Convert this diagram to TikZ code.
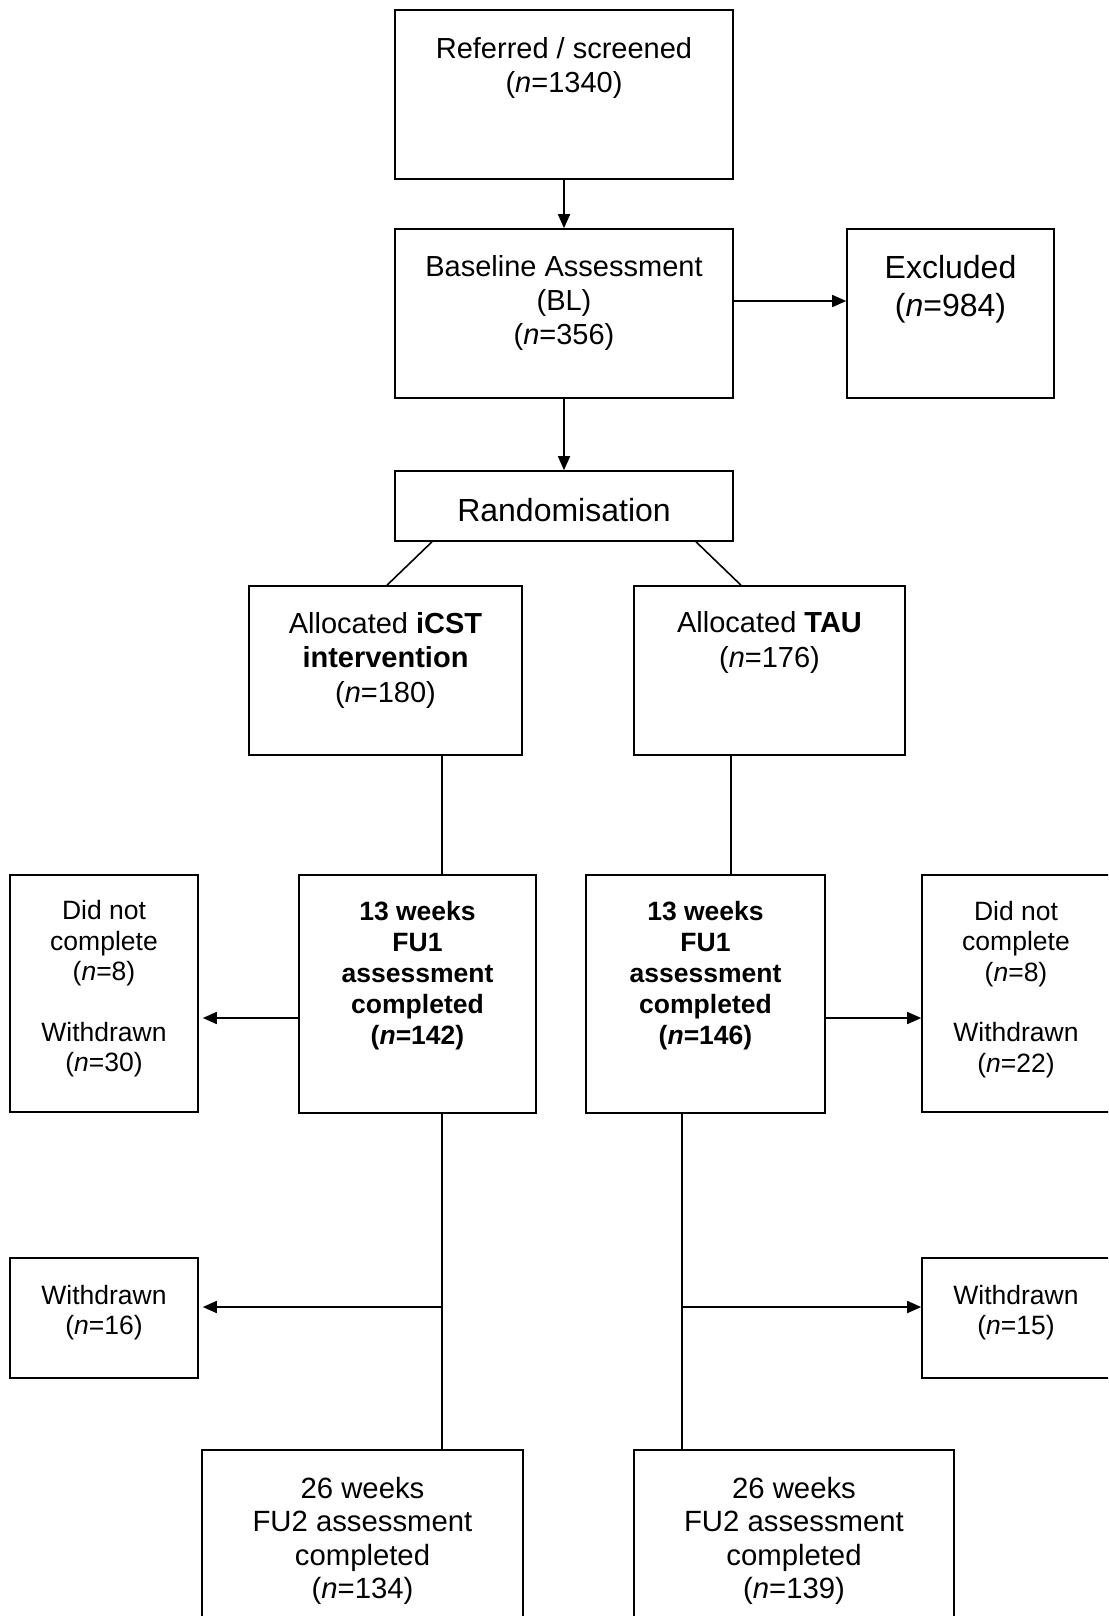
\documentclass[tikz,border=0pt]{standalone}
\usepackage{fontspec}
\setmainfont{Liberation Sans}
\usetikzlibrary{arrows.meta}
\begin{document}
\begin{tikzpicture}[x=1bp,y=-1bp,
  box/.style={draw=black,line width=1.6bp,minimum width=#1,inner sep=0pt},
  lbl/.style={align=center,inner sep=0pt},
  main/.style={font=\fontsize{29bp}{34bp}\selectfont},
  big/.style={font=\fontsize{32bp}{38bp}\selectfont},
  small/.style={font=\fontsize{26.5bp}{30.4bp}\selectfont},
  boldtxt/.style={font=\fontsize{26.5bp}{31bp}\selectfont\bfseries},
  link/.style={line width=1.6bp},
  arr/.style={line width=1.6bp,-{Triangle[length=14bp,width=12bp]}}]
\useasboundingbox (0,0) rectangle (1108,1616);
\fill[white] (0,0) rectangle (1108,1616);
\clip (0,0) rectangle (1108,1616);

% boxes
\node[box=338bp,minimum height=169bp] (ref)  at (564,94.5) {};
\node[box=338bp,minimum height=169bp] (base) at (564,313.5) {};
\node[box=207bp,minimum height=169bp] (excl) at (950.5,313.5) {};
\node[box=338bp,minimum height=70bp]  (rand) at (564,506) {};
\node[box=273bp,minimum height=169bp] (icst) at (385.5,670.5) {};
\node[box=271bp,minimum height=169bp] (tau)  at (769.5,670.5) {};
\node[box=237bp,minimum height=238bp] (fuL)  at (417.5,994) {};
\node[box=239bp,minimum height=238bp] (fuR)  at (705.5,994) {};
\node[box=188bp,minimum height=237bp] (dncL) at (104,993.5) {};
\node[box=188bp,minimum height=237bp] (dncR) at (1016,993.5) {};
\node[box=188bp,minimum height=120bp] (wdL)  at (104,1318) {};
\node[box=188bp,minimum height=120bp] (wdR)  at (1016,1318) {};
\node[box=321bp,minimum height=200bp] (fuIIL) at (362.5,1550) {};
\node[box=320bp,minimum height=200bp] (fuIIR) at (794,1550) {};

% texts
\node[lbl,main] (refT) at (564,67.5) {Referred / screened\\(\textit{n}=1340)};
\node[lbl,main] (baseT) at (564,303) {Baseline Assessment\\(BL)\\(\textit{n}=356)};
\node[lbl,big] (exclT) at (950.5,289) {Excluded\\(\textit{n}=984)};
\node[lbl,big] (randT) at (564,510) {Randomisation};
\node[lbl,main,font=\fontsize{29bp}{34.5bp}\selectfont] (icstT) at (385.5,660)
  {Allocated \textbf{iCST}\\\textbf{intervention}\\(\textit{n}=180)};
\node[lbl,main,font=\fontsize{29bp}{34.5bp}\selectfont] (tauT) at (769.5,642.5)
  {Allocated \textbf{TAU}\\(\textit{n}=176)};
\node[lbl,boldtxt] (fuLT) at (417.5,976) {13 weeks\\FU1\\assessment\\completed\\(\textit{n}=142)};
\node[lbl,boldtxt] (fuRT) at (705.5,976) {13 weeks\\FU1\\assessment\\completed\\(\textit{n}=146)};
\node[lbl,small] (dncLT) at (104,989) {Did not\\complete\\(\textit{n}=8)\\[30.4bp]Withdrawn\\(\textit{n}=30)};
\node[lbl,small] (dncRT) at (1016,989.5) {Did not\\complete\\(\textit{n}=8)\\[30.4bp]Withdrawn\\(\textit{n}=22)};
\node[lbl,small] (wdLT) at (104,1312.5) {Withdrawn\\(\textit{n}=16)};
\node[lbl,small] (wdRT) at (1016,1312.5) {Withdrawn\\(\textit{n}=15)};
\node[lbl,main,font=\fontsize{29.3bp}{33.3bp}\selectfont] (fuIILT) at (362.5,1541)
  {26 weeks\\FU2 assessment\\completed\\(\textit{n}=134)};
\node[lbl,main,font=\fontsize{29.3bp}{33.3bp}\selectfont] (fuIIRT) at (794,1541)
  {26 weeks\\FU2 assessment\\completed\\(\textit{n}=139)};

% column positions of the vertical connectors
\coordinate (colL) at (442,0);
\coordinate (colR) at (731,0);
\coordinate (colRb) at (682,0);
\coordinate (rowFU) at (0,1018);
\coordinate (rowWD) at (0,1307);

% connectors
\draw[arr] (ref.south) -- (base.north);
\draw[arr] (base.south) -- (rand.north);
\draw[arr] (base.east |- 0,301) -- (excl.west |- 0,301);
\draw[link] ([xshift=-132bp]rand.south) -- ([xshift=1.5bp]icst.north);
\draw[link] ([xshift=132bp]rand.south) -- ([xshift=-28.5bp]tau.north);
\draw[link] (colL |- icst.south) -- (colL |- fuL.north);
\draw[link] (colR |- tau.south) -- (colR |- fuR.north);
\draw[arr,shorten >=4bp] (fuL.west |- rowFU) -- (dncL.east |- rowFU);
\draw[arr] (fuR.east |- rowFU) -- (dncR.west |- rowFU);
\draw[link] (colL |- fuL.south) -- (colL |- fuIIL.north);
\draw[link] (colRb |- fuR.south) -- (colRb |- fuIIR.north);
\draw[arr,shorten >=4bp] (colL |- rowWD) -- (wdL.east |- rowWD);
\draw[arr] (colRb |- rowWD) -- (wdR.west |- rowWD);
\end{tikzpicture}
\end{document}
